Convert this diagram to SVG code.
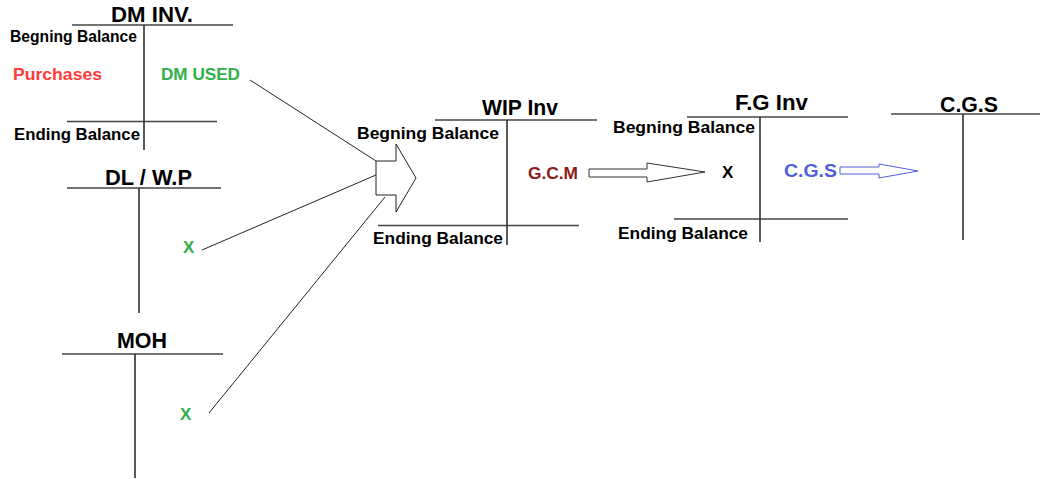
<svg xmlns="http://www.w3.org/2000/svg" width="1041" height="479" viewBox="0 0 1041 479">
<style>
text{font-family:"Liberation Sans",Arial,sans-serif;font-weight:bold;}
.t{font-size:22px;fill:#000;}
.l{font-size:17px;fill:#000;}
.h{stroke:#444;stroke-width:1.5;fill:none;}
.v{stroke:#222;stroke-width:1.5;fill:none;}
.c{stroke:#222;stroke-width:1;fill:none;}
.red{fill:#ff3b3b;font-size:17px;}
.grn{fill:#2fb04a;font-size:17px;}
</style>
<rect width="1041" height="479" fill="#fff"/>
<g id="dm-inv">
<text class="t" x="111" y="22" textLength="82" lengthAdjust="spacingAndGlyphs">DM INV.</text>
<line class="h" x1="72" y1="25" x2="233" y2="25"/>
<line class="v" x1="144" y1="25" x2="144" y2="150"/>
<line class="h" x1="67" y1="121.5" x2="217" y2="121.5"/>
<text class="l" x="10" y="42" textLength="127" lengthAdjust="spacingAndGlyphs">Begning Balance</text>
<text class="red" x="13" y="80" textLength="89" lengthAdjust="spacingAndGlyphs">Purchases</text>
<text class="grn" x="161" y="80" textLength="79" lengthAdjust="spacingAndGlyphs">DM USED</text>
<text class="l" x="14" y="140" textLength="126" lengthAdjust="spacingAndGlyphs">Ending Balance</text>
</g>
<g id="dl-wp">
<text class="t" x="105" y="185" textLength="87" lengthAdjust="spacingAndGlyphs">DL / W.P</text>
<line class="h" x1="67" y1="188" x2="221" y2="188"/>
<line class="v" x1="139" y1="188" x2="139" y2="313"/>
<text class="grn" x="183" y="253">X</text>
</g>
<g id="moh">
<text class="t" x="117" y="348" textLength="50" lengthAdjust="spacingAndGlyphs">MOH</text>
<line class="h" x1="62" y1="354" x2="223" y2="354"/>
<line class="v" x1="135" y1="354" x2="135" y2="478"/>
<text class="grn" x="180" y="420">X</text>
</g>
<g id="wip-inv">
<text class="t" x="482" y="115" textLength="76" lengthAdjust="spacingAndGlyphs">WIP Inv</text>
<line class="h" x1="435" y1="120" x2="597" y2="120"/>
<line class="v" x1="507" y1="120" x2="507" y2="245"/>
<line class="h" x1="378" y1="225.5" x2="579" y2="225.5"/>
<text class="l" x="357" y="139" textLength="142" lengthAdjust="spacingAndGlyphs">Begning Balance</text>
<text class="l" x="373" y="244" textLength="130" lengthAdjust="spacingAndGlyphs">Ending Balance</text>
<text x="528" y="179" style="fill:#8b1a1a;font-size:17px" textLength="50" lengthAdjust="spacingAndGlyphs">G.C.M</text>
</g>
<g id="fg-inv">
<text class="t" x="735" y="110" textLength="73" lengthAdjust="spacingAndGlyphs">F.G Inv</text>
<line class="h" x1="687" y1="117" x2="848" y2="117"/>
<line class="v" x1="760" y1="117" x2="760" y2="242"/>
<line class="h" x1="674" y1="219" x2="848" y2="219"/>
<text class="l" x="613" y="133" textLength="142" lengthAdjust="spacingAndGlyphs">Begning Balance</text>
<text class="l" x="618" y="239" textLength="130" lengthAdjust="spacingAndGlyphs">Ending Balance</text>
<text class="l" x="722" y="178">X</text>
<text x="784" y="177" style="fill:#4f5fd6;font-size:18px" textLength="53" lengthAdjust="spacingAndGlyphs">C.G.S</text>
</g>
<g id="cgs">
<text class="t" x="940" y="112" textLength="58" lengthAdjust="spacingAndGlyphs">C.G.S</text>
<line class="h" x1="891" y1="114" x2="1040" y2="114"/>
<line class="v" x1="963" y1="114" x2="963" y2="240"/>
</g>
<g id="connectors">
<line class="c" x1="250" y1="80" x2="376" y2="161"/>
<line class="c" x1="202" y1="250" x2="376" y2="175"/>
<line class="c" x1="209" y1="413" x2="385" y2="197"/>
<polygon points="376,161 396,161 396,144 416,178 396,212 396,195 376,195" fill="#fff" stroke="#222" stroke-width="1"/>
<polygon points="589,169 647,169 647,163 705,172 647,182 647,177 589,177" fill="#fff" stroke="#333" stroke-width="1"/>
<polygon points="840,167 879,167 879,164 918,171 879,178 879,174 840,174" fill="#fff" stroke="#5060d8" stroke-width="1"/>
</g>
</svg>
